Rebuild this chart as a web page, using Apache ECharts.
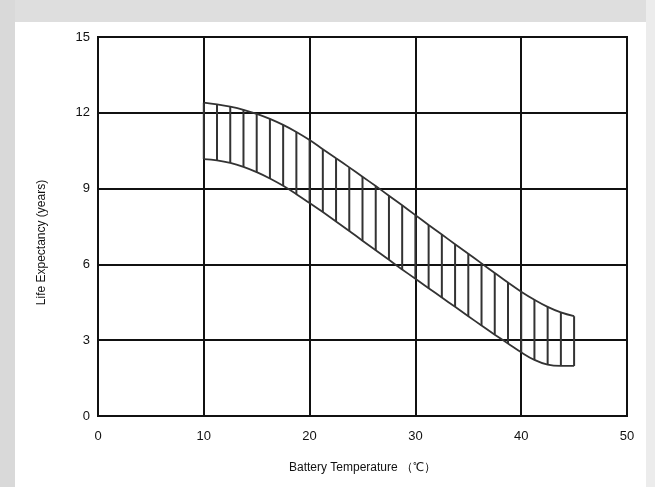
<!DOCTYPE html>
<html>
<head>
<meta charset="utf-8">
<script src="https://cdn.jsdelivr.net/npm/echarts@6/dist/echarts.min.js"></script>
<style>
html,body{margin:0;padding:0;background:#fff;}
#chart{width:655px;height:487px;}
</style>
</head>
<body>
<div id="chart"></div>
<script>
const temps = [10, 11.25, 12.5, 13.75, 15, 16.25, 17.5, 18.75, 20, 21.25, 22.5, 23.75, 25, 26.25, 27.5, 28.75, 30, 31.25, 32.5, 33.75, 35, 36.25, 37.5, 38.75, 40, 41.25, 42.5, 43.75, 45];
const upperLife = [12.4, 12.33, 12.24, 12.12, 11.96, 11.76, 11.52, 11.24, 10.92, 10.56, 10.2, 9.84, 9.47, 9.1, 8.72, 8.34, 7.95, 7.56, 7.18, 6.8, 6.42, 6.04, 5.66, 5.28, 4.92, 4.6, 4.32, 4.1, 3.95];
const lowerLife = [10.17, 10.12, 10.02, 9.86, 9.65, 9.4, 9.11, 8.78, 8.43, 8.07, 7.7, 7.32, 6.94, 6.56, 6.18, 5.8, 5.43, 5.06, 4.69, 4.32, 3.95, 3.58, 3.22, 2.87, 2.52, 2.22, 2.03, 1.98, 1.98];
const xTicks = [0, 10, 20, 30, 40, 50];
const yTicks = [0, 3, 6, 9, 12, 15];

const chart = echarts.init(document.getElementById('chart'));
const labelFont = {color: '#111', fontSize: 13, fontFamily: 'Liberation Sans, Arial, sans-serif'};
const gridLine = {show: true, lineStyle: {color: '#111', width: 2}};

chart.setOption({
  backgroundColor: '#fff',
  animation: false,
  graphic: [
    {type: 'rect', z: -10, shape: {x: 0, y: 0, width: 655, height: 22}, style: {fill: '#dedede'}},
    {type: 'rect', z: -10, shape: {x: 0, y: 0, width: 15, height: 487}, style: {fill: '#d9d9d9'}},
    {type: 'rect', z: -10, shape: {x: 646, y: 0, width: 9, height: 487}, style: {fill: '#ececec'}}
  ],
  grid: {left: 98, right: 28, top: 37, bottom: 71, show: true, borderColor: '#111', borderWidth: 2},
  xAxis: {
    type: 'value', min: xTicks[0], max: xTicks[xTicks.length - 1], interval: 10,
    name: 'Battery Temperature （℃）', nameLocation: 'middle', nameGap: 46,
    nameTextStyle: {color: '#111', fontSize: 12, fontFamily: 'Liberation Sans, Arial, sans-serif'},
    axisLine: {lineStyle: {color: '#111', width: 2}},
    axisTick: {show: false},
    axisLabel: Object.assign({margin: 14}, labelFont),
    splitLine: gridLine
  },
  yAxis: {
    type: 'value', min: yTicks[0], max: yTicks[yTicks.length - 1], interval: 3,
    name: 'Life Expectancy (years)', nameLocation: 'middle', nameGap: 50,
    nameTextStyle: {color: '#111', fontSize: 12, fontFamily: 'Liberation Sans, Arial, sans-serif', padding: [0, 32, 0, 0]},
    axisLine: {show: true, lineStyle: {color: '#111', width: 2}},
    axisTick: {show: false},
    axisLabel: Object.assign({margin: 8}, labelFont),
    splitLine: gridLine
  },
  series: [
    {
      type: 'custom',
      renderItem: function (params, api) {
        const x = api.value(0);
        const p1 = api.coord([x, api.value(1)]);
        const p2 = api.coord([x, api.value(2)]);
        return {type: 'line', shape: {x1: p1[0], y1: p1[1], x2: p2[0], y2: p2[1]}, style: {stroke: '#333', lineWidth: 2}};
      },
      data: temps.map((t, i) => [t, lowerLife[i], upperLife[i]]),
      z: 3
    },
    {
      type: 'line', smooth: 0.4, symbol: 'none',
      data: temps.map((t, i) => [t, upperLife[i]]),
      lineStyle: {color: '#333', width: 1.8}, z: 4
    },
    {
      type: 'line', smooth: 0.4, symbol: 'none',
      data: temps.map((t, i) => [t, lowerLife[i]]),
      lineStyle: {color: '#333', width: 1.8}, z: 4
    }
  ]
});
</script>
</body>
</html>
